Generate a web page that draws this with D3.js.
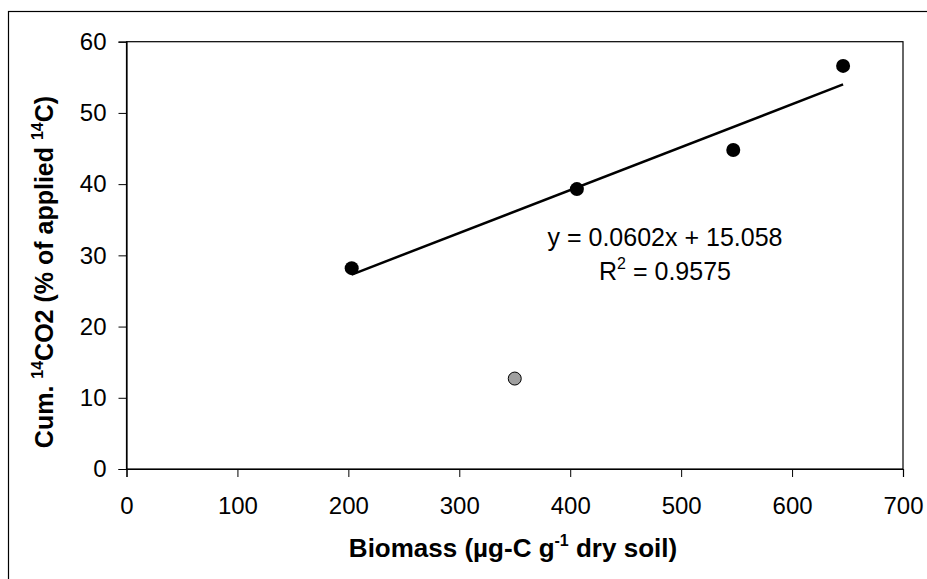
<!DOCTYPE html>
<html lang="en">
<head>
<meta charset="UTF-8">
<script src="https://d3js.org/d3.v7.min.js"></script>
<style>
  body { margin: 0; background: #fff; }
  #plot { position: absolute; width: 927px; height: 579px; }
  text { font-family: Arial, "Liberation Sans", sans-serif; }
</style>
</head>
<body>
<div id="plot"></div>
<script>
// data
const biomass = [203, 406, 547, 646];
const cumCO2  = [28.2, 39.3, 44.8, 56.6];
const outlierX = [350];
const outlierY = [12.7];
const trendX = [203, 646];
const trendY = [27.3, 54.0];
const xTicks = [0, 100, 200, 300, 400, 500, 600, 700];
const yTicks = [0, 10, 20, 30, 40, 50, 60];
const eqText = "y = 0.0602x + 15.058";
const r2Value = "0.9575";

function draw() {
  const width = 927, height = 579;
  const svg = d3.select("#plot").append("svg")
      .attr("width", width)
      .attr("height", height);

  // outer chart border (runs off right and bottom)
  svg.append("rect")
      .attr("x", 8.5).attr("y", 11.5)
      .attr("width", 940).attr("height", 600)
      .attr("fill", "none").attr("stroke", "#000").attr("stroke-width", 1.2);

  const left = 126.5, right = 903, top = 41.7, bottom = 469;

  const x = d3.scaleLinear().domain([0, 700]).range([left, right]);
  const y = d3.scaleLinear().domain([0, 60]).range([bottom, top]);

  // plot frame
  svg.append("rect")
      .attr("x", left).attr("y", top)
      .attr("width", right - left).attr("height", bottom - top)
      .attr("fill", "none").attr("stroke", "#000").attr("stroke-width", 1.2);

  const xAxis = svg.append("g")
      .attr("transform", `translate(0, ${bottom})`)
      .call(d3.axisBottom(x).tickValues(xTicks).tickSize(8).tickPadding(20).tickFormat(d3.format("d")))
      .call(g => g.select(".domain").attr("stroke-width", 1.2));
  xAxis.selectAll("text").attr("font-size", 24).attr("fill", "#000")
      .attr("font-family", "Arial, 'Liberation Sans', sans-serif");

  const yAxis = svg.append("g")
      .attr("transform", `translate(${left}, 0)`)
      .call(d3.axisLeft(y).tickValues(yTicks).tickSize(8).tickPadding(12).tickFormat(d3.format("d")))
      .call(g => g.select(".domain").attr("stroke-width", 1.2));
  yAxis.selectAll("text").attr("font-size", 24).attr("fill", "#000")
      .attr("font-family", "Arial, 'Liberation Sans', sans-serif");

  // trend line
  svg.append("line")
      .attr("x1", x(trendX[0])).attr("y1", y(trendY[0]))
      .attr("x2", x(trendX[1])).attr("y2", y(trendY[1]))
      .attr("stroke", "#000").attr("stroke-width", 2.5);

  // points
  svg.append("g").selectAll("circle")
      .data(biomass.map((b, i) => [b, cumCO2[i]]))
      .join("circle")
        .attr("cx", d => x(d[0]))
        .attr("cy", d => y(d[1]))
        .attr("r", 7)
        .attr("fill", "#000");

  svg.append("g").selectAll("circle")
      .data(outlierX.map((b, i) => [b, outlierY[i]]))
      .join("circle")
        .attr("cx", d => x(d[0]))
        .attr("cy", d => y(d[1]))
        .attr("r", 6.5)
        .attr("fill", "#a0a0a0")
        .attr("stroke", "#000")
        .attr("stroke-width", 1);

  // equation
  svg.append("text")
      .attr("x", 665).attr("y", 246)
      .attr("text-anchor", "middle")
      .attr("font-size", 25)
      .text(eqText);

  const r2 = svg.append("text")
      .attr("x", 665).attr("y", 280)
      .attr("text-anchor", "middle")
      .attr("font-size", 25);
  r2.append("tspan").text("R");
  r2.append("tspan").attr("font-size", 16).attr("dy", -11).text("2");
  r2.append("tspan").attr("dy", 11).text(" = " + r2Value);

  // x axis title
  const xt = svg.append("text")
      .attr("x", 513).attr("y", 557)
      .attr("text-anchor", "middle")
      .attr("font-size", 26).attr("font-weight", "bold");
  xt.append("tspan").text("Biomass (µg-C g");
  xt.append("tspan").attr("font-size", 16).attr("dy", -11).text("-1");
  xt.append("tspan").attr("dy", 11).text(" dry soil)");

  // y axis title
  const yt = svg.append("text")
      .attr("transform", `translate(53, 272) rotate(-90)`)
      .attr("text-anchor", "middle")
      .attr("font-size", 25).attr("font-weight", "bold");
  yt.append("tspan").text("Cum. ");
  yt.append("tspan").attr("font-size", 16).attr("dy", -10).text("14");
  yt.append("tspan").attr("dy", 10).text("CO2 (% of applied ");
  yt.append("tspan").attr("font-size", 16).attr("dy", -10).text("14");
  yt.append("tspan").attr("dy", 10).text("C)");
}

window.onload = draw;
</script>
</body>
</html>
